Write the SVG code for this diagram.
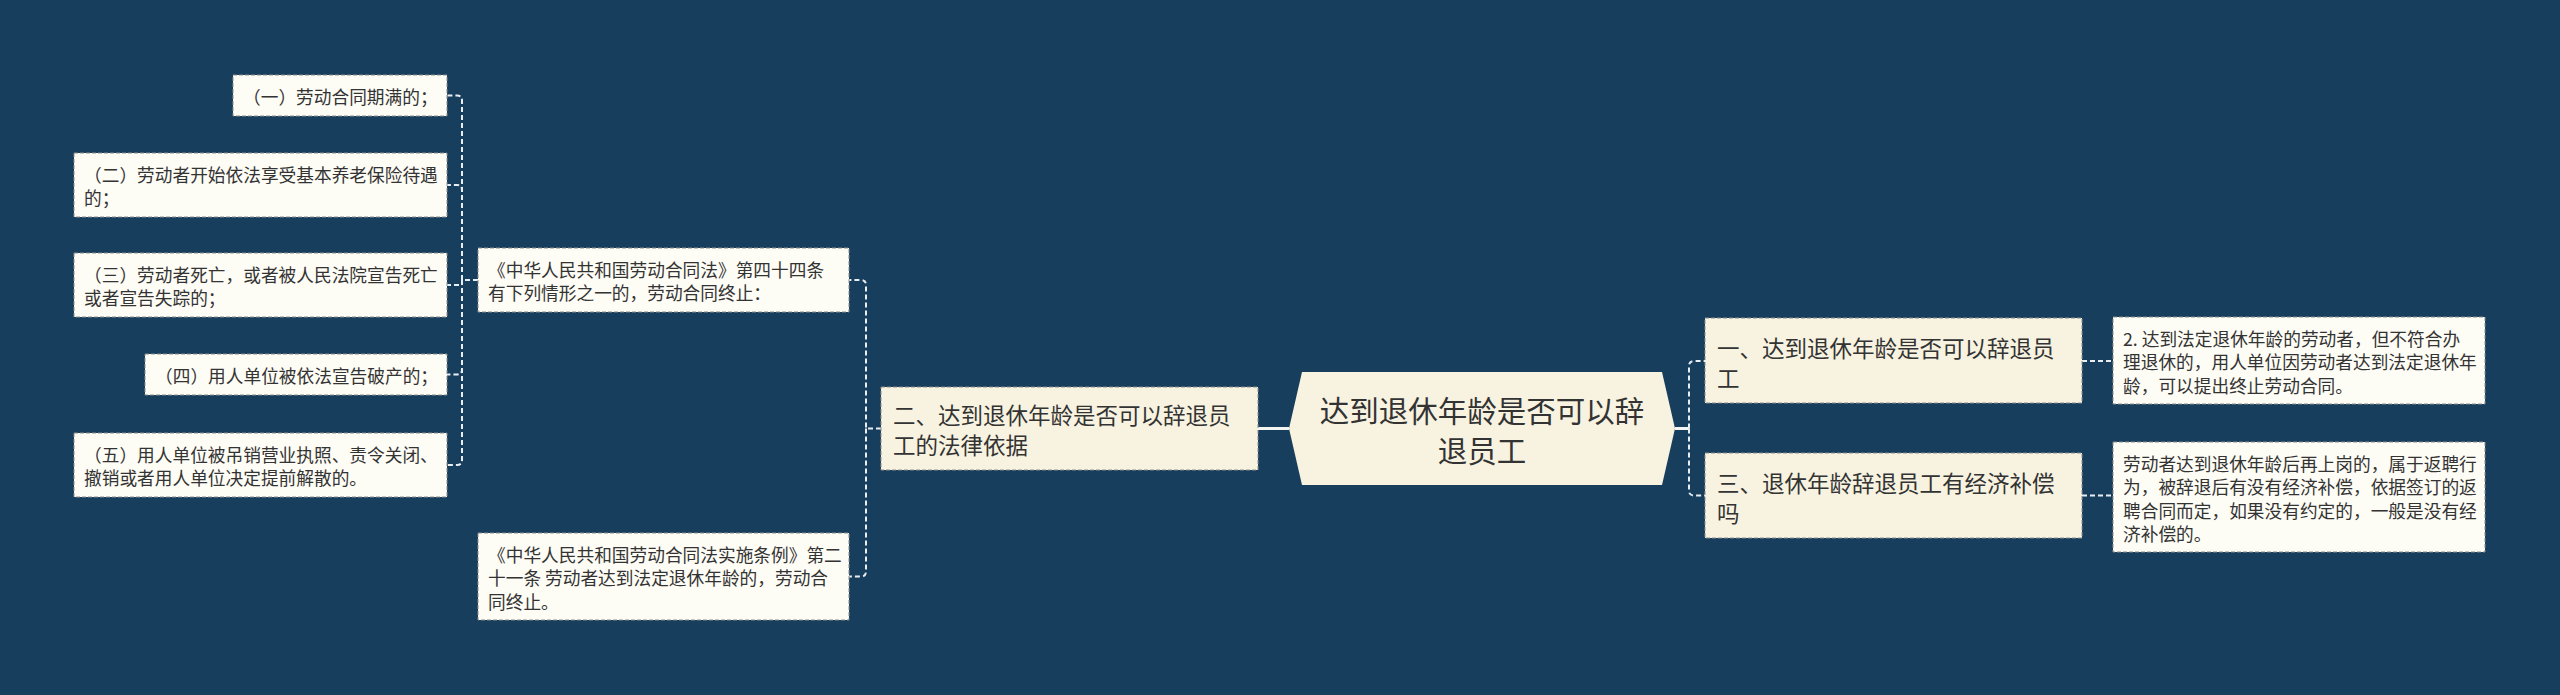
<svg xmlns="http://www.w3.org/2000/svg" width="2560" height="695" viewBox="0 0 2560 695">
<style>
.bg{fill:#183e5e}
.leaf{fill:#fdfcf5;stroke:#8c8c8c;stroke-width:1;stroke-dasharray:4 2}
.l1{fill:#f8f3e1;stroke:#8c8c8c;stroke-width:1;stroke-dasharray:4 2}
.root{fill:#f8f3e1}
text{font-family:"Noto Sans CJK SC","Noto Sans",sans-serif;fill:#333;dominant-baseline:central}
.t18{font-size:17.7px}
.t22{font-size:22.5px}
.t30{font-size:29.5px}
.dash{fill:none;stroke:#e9eef2;stroke-width:2;stroke-dasharray:5 3}
.solid{fill:none;stroke:#f4f4f0;stroke-width:3}
</style>
<rect class="bg" x="0" y="0" width="2560" height="695"/>

<g id="connectors">
  <path class="solid" d="M1289,428.5 H1258"/>
  <path class="solid" d="M1675,428.5 H1689"/>
  <path class="dash" d="M1689,428.5 V366 Q1689,361 1694,361 H1705"/>
  <path class="dash" d="M1689,428.5 V490.5 Q1689,495.5 1694,495.5 H1705"/>
  <path class="dash" d="M2082,361 H2113"/>
  <path class="dash" d="M2082,495.5 H2113"/>
  <path class="dash" d="M881,428.5 H866 V285 Q866,280 861,280 H849"/>
  <path class="dash" d="M866,428.5 V571.5 Q866,576.5 861,576.5 H849"/>
  <path class="dash" d="M478,280 H462 V100.5 Q462,95.5 457,95.5 H447"/>
  <path class="dash" d="M462,280 V190 Q462,185 457,185 H447"/>
  <path class="dash" d="M462,280 V285 H447"/>
  <path class="dash" d="M462,280 V369.5 Q462,374.5 457,374.5 H447"/>
  <path class="dash" d="M462,280 V460 Q462,465 457,465 H447"/>
</g>

<g id="root">
  <polygon class="root" points="1302,372 1662,372 1675,428.5 1662,485 1302,485 1289,428.5"/>
  <text class="t30" x="1482" y="408.5" text-anchor="middle">达到退休年龄是否可以辞</text>
  <text class="t30" x="1482" y="448.5" text-anchor="middle">退员工</text>
</g>

<g id="n2">
  <rect class="l1" x="881" y="387" width="377" height="83"/>
  <text class="t22" x="893" y="414">二、达到退休年龄是否可以辞退员</text>
  <text class="t22" x="893" y="444">工的法律依据</text>
</g>

<g id="n1">
  <rect class="l1" x="1705" y="318" width="377" height="85"/>
  <text class="t22" x="1717" y="346.5">一、达到退休年龄是否可以辞退员</text>
  <text class="t22" x="1717" y="376.5">工</text>
</g>

<g id="n3">
  <rect class="l1" x="1705" y="453" width="377" height="85"/>
  <text class="t22" x="1717" y="481.5">三、退休年龄辞退员工有经济补偿</text>
  <text class="t22" x="1717" y="511.5">吗</text>
</g>

<g id="r1">
  <rect class="leaf" x="2113" y="317" width="372" height="87"/>
  <text class="t18" x="2123" y="337.5">2. 达到法定退休年龄的劳动者，但不符合办</text>
  <text class="t18" x="2123" y="361">理退休的，用人单位因劳动者达到法定退休年</text>
  <text class="t18" x="2123" y="384.5">龄，可以提出终止劳动合同。</text>
</g>

<g id="r2">
  <rect class="leaf" x="2113" y="442" width="372" height="110"/>
  <text class="t18" x="2123" y="462.5">劳动者达到退休年龄后再上岗的，属于返聘行</text>
  <text class="t18" x="2123" y="486">为，被辞退后有没有经济补偿，依据签订的返</text>
  <text class="t18" x="2123" y="509.5">聘合同而定，如果没有约定的，一般是没有经</text>
  <text class="t18" x="2123" y="533">济补偿的。</text>
</g>

<g id="a">
  <rect class="leaf" x="478" y="248" width="371" height="64"/>
  <text class="t18" x="488" y="268.5">《中华人民共和国劳动合同法》第四十四条</text>
  <text class="t18" x="488" y="292">有下列情形之一的，劳动合同终止：</text>
</g>

<g id="b">
  <rect class="leaf" x="478" y="533" width="371" height="87"/>
  <text class="t18" x="488" y="553.5">《中华人民共和国劳动合同法实施条例》第二</text>
  <text class="t18" x="488" y="577">十一条 劳动者达到法定退休年龄的，劳动合</text>
  <text class="t18" x="488" y="600.5">同终止。</text>
</g>

<g id="a1">
  <rect class="leaf" x="233" y="75" width="214" height="41"/>
  <text class="t18" x="243" y="95.5">（一）劳动合同期满的；</text>
</g>

<g id="a2">
  <rect class="leaf" x="74" y="153" width="373" height="64"/>
  <text class="t18" x="84" y="173.5">（二）劳动者开始依法享受基本养老保险待遇</text>
  <text class="t18" x="84" y="197">的；</text>
</g>

<g id="a3">
  <rect class="leaf" x="74" y="253" width="373" height="64"/>
  <text class="t18" x="84" y="273.5">（三）劳动者死亡，或者被人民法院宣告死亡</text>
  <text class="t18" x="84" y="297">或者宣告失踪的；</text>
</g>

<g id="a4">
  <rect class="leaf" x="145" y="354" width="302" height="41"/>
  <text class="t18" x="155" y="374.5">（四）用人单位被依法宣告破产的；</text>
</g>

<g id="a5">
  <rect class="leaf" x="74" y="433" width="373" height="64"/>
  <text class="t18" x="84" y="453.5">（五）用人单位被吊销营业执照、责令关闭、</text>
  <text class="t18" x="84" y="477">撤销或者用人单位决定提前解散的。</text>
</g>
</svg>
